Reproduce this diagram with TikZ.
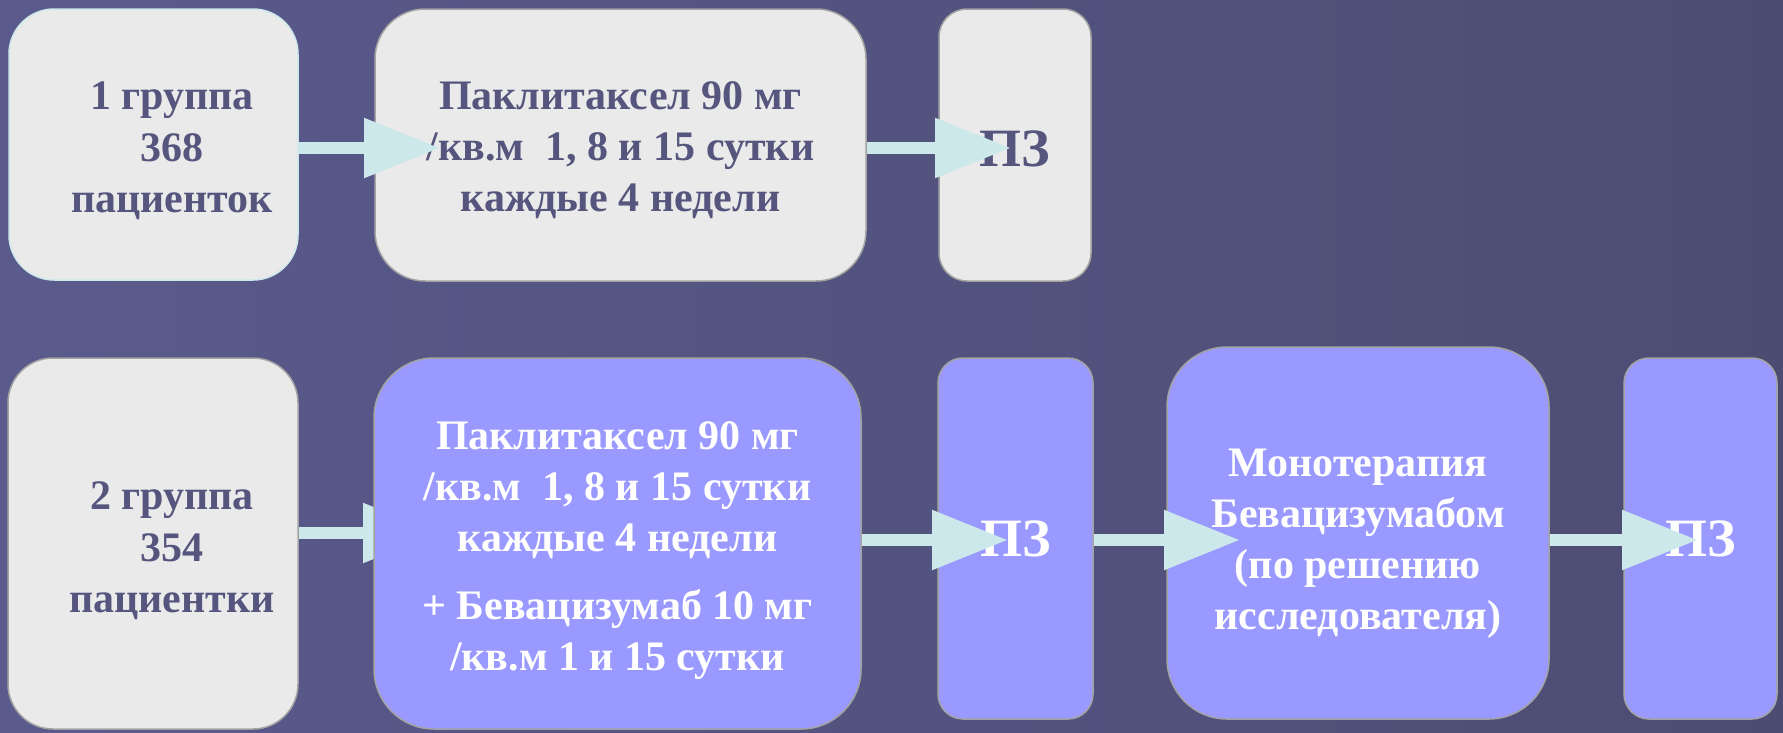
\documentclass[tikz,border=0pt]{standalone}
\usepackage{fontspec}
\setmainfont{Liberation Serif}
\usetikzlibrary{arrows.meta}
\definecolor{bgleft}{HTML}{5A5A8C}
\definecolor{bgright}{HTML}{4C4C73}
\definecolor{greyfill}{HTML}{EAEAEA}
\definecolor{bluefill}{HTML}{9999FF}
\definecolor{boxline}{HTML}{A3A3A3}
\definecolor{darktext}{HTML}{55557E}
\definecolor{flowcol}{HTML}{CCE8EA}
\newcommand{\toppad}[1]{\rule{0pt}{#1}}
\tikzset{
  greybox/.style={draw=boxline, line width=1.5pt, fill=greyfill, text=darktext,
    font=\bfseries\fontsize{42}{51}\selectfont, align=center, inner sep=0pt},
  bluebox/.style={greybox, fill=bluefill, text=white},
  grptext/.style={text=darktext, font=\bfseries\fontsize{42}{51.5}\selectfont, align=center},
  pzfont/.style={font=\bfseries\fontsize{54}{60}\selectfont},
  flow/.style={draw=flowcol, line width=12pt, -{Triangle[length=76pt,width=57pt]}},
}

\begin{document}
\begin{tikzpicture}[x=1pt,y=-1pt]
% background
\shade[left color=bgleft, right color=bgright] (0,0) rectangle (1783,732);
\useasboundingbox (0,0) rectangle (1783,732);
% first row
\node[greybox, draw=flowcol, minimum width=289pt, minimum height=271pt,
      rounded corners=45pt] (grp1) at (153.5,144.5) {};
\node[grptext] (grp1txt) at (172,151) {1 группа\\368\\пациенток};
\node[greybox, minimum width=491pt, minimum height=272pt, rounded corners=50pt]
  (pac1) at (620.5,145) {\toppad{39pt}Паклитаксел 90 мг\\/кв.м~~1, 8 и 15 сутки\\каждые 4 недели};
\node[greybox, pzfont, minimum width=152pt, minimum height=272pt,
      rounded corners=28pt] (pz1) at (1015,145) {\toppad{44pt}ПЗ};
% second row
\node[greybox, minimum width=290pt, minimum height=371pt, rounded corners=45pt]
  (grp2) at (153,543.5) {};
\node[grptext] (grp2txt) at (172,551) {2 группа\\354\\пациентки};
\coordinate (tip3) at (439,533);
\draw[flow] (grp2.east |- tip3) -- (tip3);
\node[bluebox, minimum width=487pt, minimum height=371pt, rounded corners=60pt]
  (pac2) at (617.5,543.5) {\toppad{42pt}Паклитаксел 90 мг\\/кв.м~~1, 8 и 15 сутки\\каждые 4 недели\\[17pt]
  + Бевацизумаб 10 мг\\/кв.м 1 и 15 сутки};
\node[bluebox, pzfont, minimum width=155pt, minimum height=361pt,
      rounded corners=25pt] (pz2) at (1015.5,538.5) {ПЗ};
\node[bluebox, minimum width=382pt, minimum height=372pt, rounded corners=60pt]
  (mono) at (1358,533) {\toppad{48pt}Монотерапия\\Бевацизумабом\\(по решению\\исследователя)};
\node[bluebox, pzfont, minimum width=153pt, minimum height=361pt,
      rounded corners=25pt] (pz3) at (1700.5,538.5) {ПЗ};
% arrows
\coordinate (tip1) at (440,148);
\coordinate (tip2) at (1011,148);
\coordinate (tip4) at (1008,540);
\coordinate (tip5) at (1240,540);
\coordinate (tip6) at (1698,540);
\draw[flow] (grp1.east |- tip1) -- (tip1);
\draw[flow] (pac1.east |- tip2) -- (tip2);
\draw[flow] (pac2.east |- tip4) -- (tip4);
\draw[flow] (pz2.east |- tip5) -- (tip5);
\draw[flow] (mono.east |- tip6) -- (tip6);
\end{tikzpicture}
\end{document}
